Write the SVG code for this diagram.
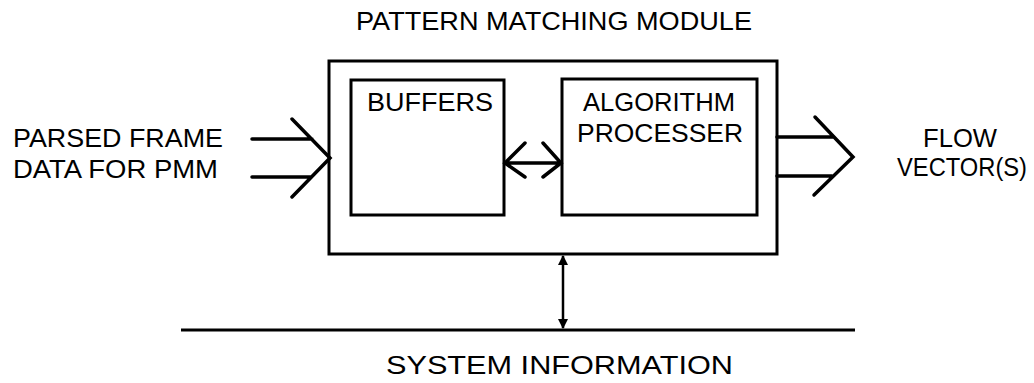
<svg xmlns="http://www.w3.org/2000/svg" width="1034" height="383" viewBox="0 0 1034 383">
  <style>
    .box { fill: none; stroke: #000; stroke-width: 3; }
    .wire { fill: none; stroke: #000; stroke-width: 3.5; stroke-linecap: round; stroke-linejoin: miter; }
    .thin { fill: none; stroke: #000; stroke-width: 2.5; }
    .lbl { font-family: "Liberation Sans", Arial, sans-serif; font-size: 25px; fill: #000; }
  </style>
  <defs>
    <marker id="tip" viewBox="0 0 10 10" refX="9" refY="5" markerWidth="10" markerHeight="10" markerUnits="userSpaceOnUse" orient="auto-start-reverse">
      <path d="M0,0 L10,5 L0,10 Z" fill="#000"/>
    </marker>
  </defs>

  <rect width="1034" height="383" fill="#fff"/>

  <text class="lbl" x="356" y="30" textLength="396" lengthAdjust="spacingAndGlyphs">PATTERN MATCHING MODULE</text>

  <g id="pmm">
    <rect class="box" x="329" y="61" width="448" height="193"/>
  </g>

  <g id="buffers">
    <rect class="box" x="351" y="80" width="153" height="135"/>
    <text class="lbl" x="367" y="111" textLength="126" lengthAdjust="spacingAndGlyphs">BUFFERS</text>
  </g>

  <g id="algorithm-processer">
    <rect class="box" x="562" y="79" width="195" height="136"/>
    <text class="lbl" x="583" y="111" textLength="152" lengthAdjust="spacingAndGlyphs">ALGORITHM</text>
    <text class="lbl" x="577" y="142" textLength="166" lengthAdjust="spacingAndGlyphs">PROCESSER</text>
  </g>

  <g id="parsed-frame-data">
    <text class="lbl" x="13" y="147" textLength="210" lengthAdjust="spacingAndGlyphs">PARSED FRAME</text>
    <text class="lbl" x="13" y="178" textLength="205" lengthAdjust="spacingAndGlyphs">DATA FOR PMM</text>
  </g>

  <g id="flow-vectors">
    <text class="lbl" x="923" y="147" textLength="74" lengthAdjust="spacingAndGlyphs">FLOW</text>
    <text class="lbl" x="897" y="176" textLength="130" lengthAdjust="spacingAndGlyphs">VECTOR(S)</text>
  </g>

  <g id="system-information">
    <line class="box" x1="181" y1="330" x2="855" y2="330"/>
    <text class="lbl" x="386" y="374" textLength="347" lengthAdjust="spacingAndGlyphs">SYSTEM INFORMATION</text>
  </g>

  <g id="connectors">
    <!-- input bus into the module -->
    <path class="wire" d="M252,139 H312 M252,177 H311 M292,119 L330,158 L292,197"/>
    <!-- buffers to processer -->
    <path class="wire" d="M505,163 H561 M525,143 L505,163 L525,177 M543,143 L561,163 L543,177"/>
    <!-- output flow vectors -->
    <path class="wire" d="M777,137 H833 M777,176 H832 M815,117 L853,157 L814,195"/>
    <!-- module to system information bus -->
    <line class="thin" x1="563" y1="256" x2="563" y2="328" marker-start="url(#tip)" marker-end="url(#tip)"/>
  </g>
</svg>
